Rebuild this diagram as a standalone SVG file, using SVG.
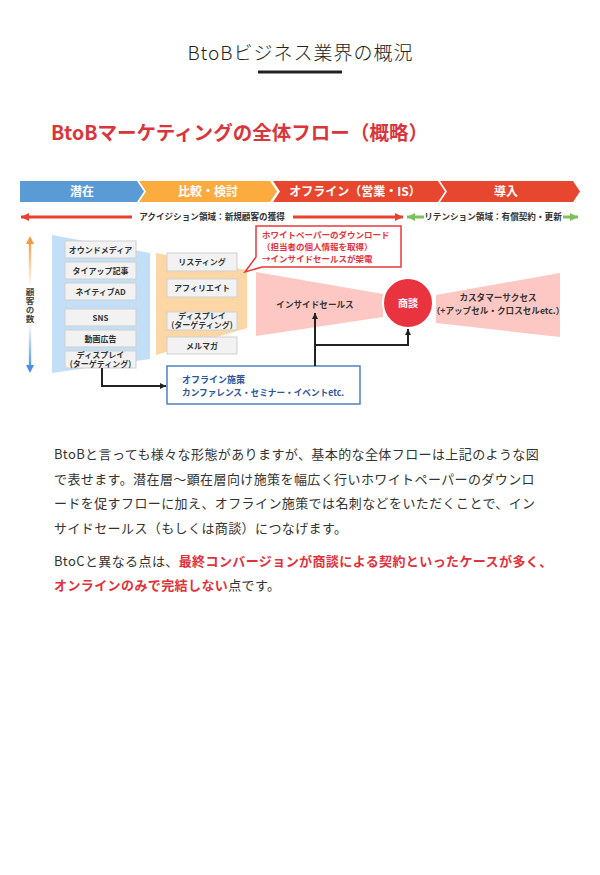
<svg xmlns="http://www.w3.org/2000/svg" width="600" height="875" viewBox="0 0 600 875">
<defs>
<style>
text{font-family:"Noto Sans CJK JP","Noto Sans",sans-serif;}
.band{font-size:12px;font-weight:bold;fill:#fff;text-anchor:middle;}
.lbl{font-size:8.6px;font-weight:bold;fill:#333;}
.box{fill:#f2f2f2;stroke:#cfcfcf;stroke-width:1;}
.bt{font-size:8px;font-weight:bold;fill:#333;text-anchor:middle;}
.ct{font-size:8.5px;font-weight:bold;fill:#e5323c;}
.ot{font-size:9px;font-weight:bold;fill:#2f5597;}
.body{font-size:13px;fill:#333;letter-spacing:0.4px;}
.em{fill:#e0323c;font-weight:bold;}
.conn{fill:none;stroke:#222;stroke-width:2;}
</style>
<linearGradient id="gTop" gradientUnits="userSpaceOnUse" x1="0" y1="240" x2="0" y2="287">
<stop offset="0" stop-color="#f39a44"/><stop offset="1" stop-color="#f39a44" stop-opacity="0"/>
</linearGradient>
<linearGradient id="gBot" gradientUnits="userSpaceOnUse" x1="0" y1="323" x2="0" y2="370">
<stop offset="0" stop-color="#4a8fe0" stop-opacity="0"/><stop offset="1" stop-color="#4a8fe0"/>
</linearGradient>
<marker id="ah" markerUnits="userSpaceOnUse" markerWidth="7" markerHeight="7" refX="6" refY="3" orient="auto">
<path d="M0,0 L6,3 L0,6 z" fill="#222"/>
</marker>
<marker id="ahR" markerUnits="userSpaceOnUse" markerWidth="9" markerHeight="9" refX="8" refY="4" orient="auto-start-reverse">
<path d="M0,0 L8,4 L0,8 z" fill="#e8412e"/>
</marker>
<marker id="ahG" markerUnits="userSpaceOnUse" markerWidth="9" markerHeight="9" refX="8" refY="4" orient="auto-start-reverse">
<path d="M0,0 L8,4 L0,8 z" fill="#7dbf5a"/>
</marker>
</defs>
<rect width="600" height="875" fill="#fff"/>

<g id="header">
<text x="300" y="60" text-anchor="middle" font-size="19" font-weight="300" fill="#222" textLength="225" lengthAdjust="spacing">BtoBビジネス業界の概況</text>
<rect x="258" y="70.5" width="84" height="3" fill="#222"/>
<text x="51" y="140" font-size="19.5" font-weight="bold" fill="#d9353c" textLength="377" lengthAdjust="spacing">BtoBマーケティングの全体フロー（概略）</text>
</g>

<g id="phase-band">
<path d="M20,181 H137 L144,191.5 L137,202 H20 Z" fill="#5b9bd5"/>
<path d="M139,181 H270 L277,191.5 L270,202 H139 L146,191.5 Z" fill="#fcab3e"/>
<path d="M273,181 H438 L445,191.5 L438,202 H273 L280,191.5 Z" fill="#e8472f"/>
<path d="M440,181 H573 L580,191.5 L573,202 H440 L447,191.5 Z" fill="#e8472f"/>
<text class="band" x="82" y="196">潜在</text>
<text class="band" x="208" y="196">比較・検討</text>
<text class="band" x="355" y="196">オフライン（営業・IS）</text>
<text class="band" x="506" y="196">導入</text>
</g>

<g id="domain-row">
<line x1="21" y1="217" x2="132" y2="217" stroke="#e8412e" stroke-width="3" marker-start="url(#ahR)"/>
<line x1="293" y1="217" x2="403" y2="217" stroke="#e8412e" stroke-width="3" marker-end="url(#ahR)"/>
<text class="lbl" x="212" y="220" text-anchor="middle">アクイジション領域：新規顧客の獲得</text>
<line x1="407" y1="217" x2="424" y2="217" stroke="#7dbf5a" stroke-width="3" marker-start="url(#ahG)"/>
<line x1="563" y1="217" x2="578" y2="217" stroke="#7dbf5a" stroke-width="3" marker-end="url(#ahG)"/>
<text class="lbl" x="493" y="220" text-anchor="middle">リテンション領域：有償契約・更新</text>
</g>

<g id="customer-axis">
<path d="M30,236 L34,244 L26,244 Z" fill="#f39a44"/>
<rect x="28.8" y="243" width="2.4" height="44" fill="url(#gTop)"/>
<rect x="28.8" y="323" width="2.4" height="43" fill="url(#gBot)"/>
<path d="M30,373 L34,365 L26,365 Z" fill="#4a8fe0"/>
<text x="30" y="288" font-size="8.5" font-weight="bold" fill="#444" writing-mode="vertical-rl" letter-spacing="0.5">顧客の数</text>
</g>

<g id="latent">
<polygon points="52,235 150,253 150,359 52,373" fill="#c3def7"/>
<g id="owned"><rect class="box" x="65" y="241" width="71" height="17"/><text class="bt" x="100.5" y="252.5">オウンドメディア</text></g>
<g id="tieup"><rect class="box" x="65" y="262" width="71" height="17"/><text class="bt" x="100.5" y="273.5">タイアップ記事</text></g>
<g id="native"><rect class="box" x="65" y="283" width="71" height="17"/><text class="bt" x="100.5" y="294.5">ネイティブAD</text></g>
<g id="sns"><rect class="box" x="65" y="309" width="71" height="17"/><text class="bt" x="100.5" y="320.5">SNS</text></g>
<g id="video"><rect class="box" x="65" y="330" width="71" height="17"/><text class="bt" x="100.5" y="341.5">動画広告</text></g>
<g id="display1"><rect class="box" x="65" y="351" width="71" height="17"/><text class="bt" x="100.5" y="358">ディスプレイ<tspan x="100.5" dy="8.5">(ターゲティング)</tspan></text></g>
</g>

<g id="compare">
<polygon points="156,253 247,270 247,328 156,355" fill="#fdd6a6"/>
<g id="listing"><rect class="box" x="167" y="253" width="70" height="18"/><text class="bt" x="202" y="265">リスティング</text></g>
<g id="affiliate"><rect class="box" x="167" y="279" width="70" height="18"/><text class="bt" x="202" y="291">アフィリエイト</text></g>
<g id="display2"><rect class="box" x="167" y="312" width="70" height="18"/><text class="bt" x="202" y="319">ディスプレイ<tspan x="202" dy="9">(ターゲティング)</tspan></text></g>
<g id="mailmag"><rect class="box" x="167" y="337" width="70" height="17"/><text class="bt" x="202" y="348.5">メルマガ</text></g>
</g>

<g id="callout">
<path d="M256,226 H401 V267 H262 L245,272 L256,257 Z" fill="#fff" stroke="#e8383d" stroke-width="1.5"/>
<text class="ct" x="262" y="238">ホワイトペーパーのダウンロード</text>
<text class="ct" x="262" y="249.5">（担当者の個人情報を取得）</text>
<text class="ct" x="262" y="262">→インサイドセールスが架電</text>
</g>

<g id="inside-sales">
<polygon points="256,272 383,294 383,317 256,336" fill="#fdc8c3"/>
<text class="lbl" x="315" y="308" text-anchor="middle">インサイドセールス</text>
</g>

<g id="deal">
<circle cx="408" cy="303" r="25" fill="#e9343f" stroke="#fff" stroke-width="2"/>
<text x="408" y="307" font-size="10" font-weight="bold" fill="#fff" text-anchor="middle">商談</text>
</g>

<g id="customer-success">
<polygon points="436,295 560,273 560,337 436,323" fill="#fdc8c3"/>
<text class="lbl" x="498" y="301" text-anchor="middle">カスタマーサクセス</text>
<text class="lbl" x="498" y="314" text-anchor="middle">（+アップセル・クロスセルetc.）</text>
</g>

<g id="offline">
<rect x="167" y="366" width="193" height="38" fill="#fff" stroke="#4f81bd" stroke-width="1.5"/>
<text class="ot" x="182" y="383">オフライン施策</text>
<text class="ot" x="182" y="396" textLength="162" lengthAdjust="spacingAndGlyphs">カンファレンス・セミナー・イベントetc.</text>
</g>

<g id="connectors">
<path class="conn" d="M102,368 V386 H166" marker-end="url(#ah)"/>
<path class="conn" d="M315,366 V313" marker-end="url(#ah)"/>
<path class="conn" d="M315,345 H408 V329" marker-end="url(#ah)"/>
</g>

<g id="body-text">
<text class="body" x="54" y="459">BtoBと言っても様々な形態がありますが、基本的な全体フローは上記のような図</text>
<text class="body" x="54" y="484">で表せます。潜在層〜顕在層向け施策を幅広く行いホワイトペーパーのダウンロ</text>
<text class="body" x="54" y="508">ードを促すフローに加え、オフライン施策では名刺などをいただくことで、イン</text>
<text class="body" x="54" y="533">サイドセールス（もしくは商談）につなげます。</text>
<text class="body" x="54" y="566">BtoCと異なる点は、<tspan class="em">最終コンバージョンが商談による契約といったケースが多く、</tspan></text>
<text class="body" x="54" y="590"><tspan class="em">オンラインのみで完結しない</tspan>点です。</text>
</g>
</svg>
